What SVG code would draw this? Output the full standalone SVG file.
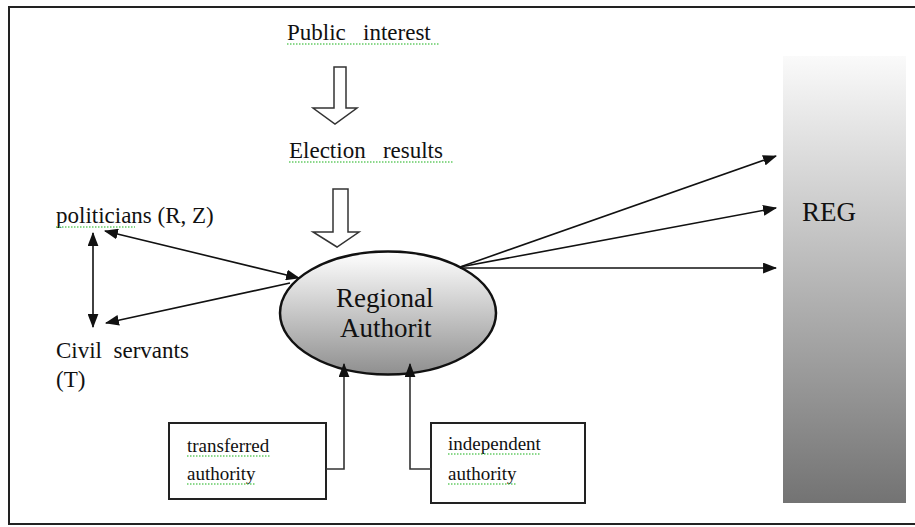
<svg xmlns="http://www.w3.org/2000/svg" width="915" height="527" viewBox="0 0 915 527">
  <style>
    .t { font-family: "Liberation Serif", "Times New Roman", serif; fill: #111; }
    .m { font-size: 23px; }
    .big { font-size: 27px; }
    .small { font-size: 19px; }
    .conn { stroke: #111; stroke-width: 1.6; fill: none; }
    .gconn { stroke: #333; stroke-width: 1.6; fill: none; }
    .box { fill: #fff; stroke: #222; stroke-width: 2; }
    .hollow { fill: #fff; stroke: #333; stroke-width: 1.5; }
    .sq { stroke: #6c6; stroke-width: 1.5; stroke-dasharray: 1.5 1.5; fill: none; }
  </style>
  <defs>
    <marker id="ah" viewBox="0 0 13 10" refX="12" refY="5" markerWidth="14" markerHeight="11" markerUnits="userSpaceOnUse" orient="auto-start-reverse">
      <path d="M0,0 L13,5 L0,10 Z" fill="#111"/>
    </marker>
    <linearGradient id="regGrad" x1="0" y1="0" x2="0" y2="1">
      <stop offset="0" stop-color="#fafafa"/>
      <stop offset="1" stop-color="#737373"/>
    </linearGradient>
    <linearGradient id="ellGrad" x1="0" y1="0" x2="0" y2="1">
      <stop offset="0" stop-color="#ffffff"/>
      <stop offset="1" stop-color="#8f8f8f"/>
    </linearGradient>
  </defs>

  <rect x="0" y="0" width="915" height="527" fill="#fff"/>
  <rect x="9" y="7" width="920" height="517" fill="none" stroke="#222" stroke-width="2"/>

  <g id="reg">
    <rect x="783" y="56" width="123" height="447" fill="url(#regGrad)"/>
    <text class="t big" x="802" y="221">REG</text>
  </g>

  <g id="public-interest">
    <text class="t m" x="287" y="40" xml:space="preserve">Public   interest</text>
    <line class="sq" x1="287" y1="44" x2="440" y2="44"/>
  </g>
  <g id="election-results">
    <text class="t m" x="289" y="158" xml:space="preserve">Election   results</text>
    <line class="sq" x1="289" y1="162" x2="453" y2="162"/>
  </g>

  <g id="hollow-arrows">
    <polygon class="hollow" points="334,67 346,67 346,108 357,108 335,124 313,108 334,108"/>
    <polygon class="hollow" points="333,189 348,189 348,232 359,232 337,247 313,232 333,232"/>
  </g>

  <g id="politicians">
    <text class="t m" x="56" y="223">politicians (R, Z)</text>
    <line class="sq" x1="56" y1="227" x2="135" y2="227"/>
  </g>
  <g id="civil-servants">
    <text class="t m" x="56" y="358" xml:space="preserve">Civil  servants</text>
    <text class="t m" x="56" y="387">(T)</text>
  </g>

  <g id="regional-authority">
    <ellipse cx="388" cy="313" rx="108" ry="61.5" fill="url(#ellGrad)" stroke="#111" stroke-width="2.5"/>
    <text class="t big" x="336" y="307">Regional</text>
    <text class="t big" x="340" y="337">Authorit</text>
  </g>

  <g id="transferred-authority">
    <rect class="box" x="169" y="423" width="157" height="76"/>
    <text class="t small" x="187" y="452">transferred</text>
    <text class="t small" x="187" y="480">authority</text>
    <line class="sq" x1="187" y1="456" x2="270" y2="456"/>
    <line class="sq" x1="187" y1="484" x2="256" y2="484"/>
  </g>

  <g id="independent-authority">
    <rect class="box" x="431" y="423" width="154" height="80"/>
    <text class="t small" x="448" y="450">independent</text>
    <text class="t small" x="448" y="480">authority</text>
    <line class="sq" x1="448" y1="454" x2="541" y2="454"/>
    <line class="sq" x1="448" y1="484" x2="517" y2="484"/>
  </g>

  <g id="connectors">
    <line class="conn" x1="93" y1="233" x2="93" y2="327" marker-start="url(#ah)" marker-end="url(#ah)"/>
    <line class="conn" x1="105" y1="231" x2="299" y2="278" marker-start="url(#ah)" marker-end="url(#ah)"/>
    <line class="conn" x1="290" y1="283" x2="106" y2="323" marker-end="url(#ah)"/>
    <line class="conn" x1="460" y1="267" x2="776" y2="156" marker-end="url(#ah)"/>
    <line class="conn" x1="460" y1="267" x2="776" y2="208" marker-end="url(#ah)"/>
    <line class="conn" x1="460" y1="268" x2="776" y2="268" marker-end="url(#ah)"/>
    <polyline class="gconn" points="326,469 344,469 344,364" marker-end="url(#ah)"/>
    <polyline class="gconn" points="431,469 410,469 410,364" marker-end="url(#ah)"/>
  </g>
</svg>
